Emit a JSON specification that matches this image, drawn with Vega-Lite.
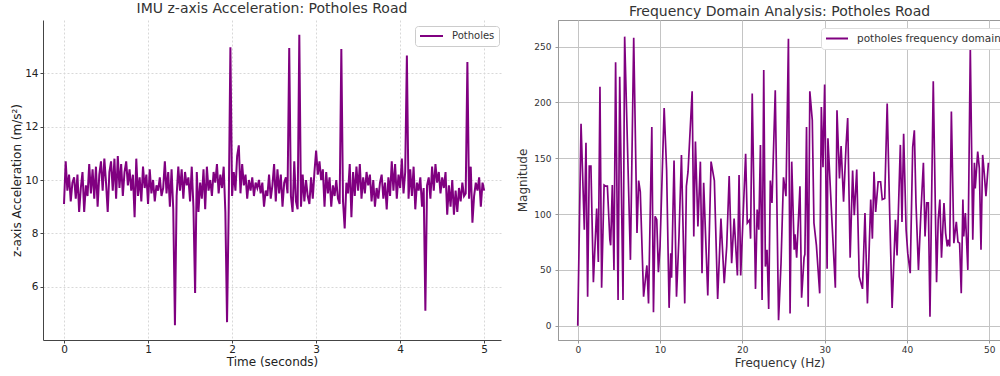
{
  "$schema": "https://vega.github.io/schema/vega-lite/v6.json",
  "padding": {"left": 10, "top": 2, "right": 0, "bottom": 0},
  "background": "white",
  "config": {"font": "DejaVu Sans", "view": {"stroke": null}},
  "spacing": 57,
  "bounds": "flush",
  "resolve": {"scale": {"stroke": "independent"}, "legend": {"stroke": "independent"}},
  "datasets": {
    "time": [
      {"t":0,"a":9.1},{"t":0.02,"a":10.7},{"t":0.04,"a":9.6},{"t":0.06,"a":10.2},{"t":0.08,"a":9.2},{"t":0.1,"a":9.9},{"t":0.12,"a":10.1},{"t":0.14,"a":9.3},{"t":0.16,"a":10.2},{"t":0.18,"a":8.8},
      {"t":0.2,"a":9.7},{"t":0.22,"a":10.3},{"t":0.24,"a":8.8},{"t":0.26,"a":9.8},{"t":0.28,"a":9.4},{"t":0.3,"a":10.6},{"t":0.32,"a":9.5},{"t":0.34,"a":10.4},{"t":0.36,"a":9.3},{"t":0.38,"a":10.5},
      {"t":0.4,"a":9.0},{"t":0.42,"a":10.2},{"t":0.44,"a":10.7},{"t":0.46,"a":9.6},{"t":0.48,"a":10.8},{"t":0.5,"a":9.9},{"t":0.52,"a":8.8},{"t":0.54,"a":10.3},{"t":0.56,"a":10.7},{"t":0.58,"a":9.6},
      {"t":0.6,"a":10.8},{"t":0.62,"a":9.3},{"t":0.64,"a":10.9},{"t":0.66,"a":9.7},{"t":0.68,"a":10.6},{"t":0.7,"a":9.4},{"t":0.72,"a":10.3},{"t":0.74,"a":10.7},{"t":0.76,"a":9.8},{"t":0.78,"a":10.4},
      {"t":0.8,"a":9.6},{"t":0.82,"a":10.2},{"t":0.84,"a":8.6},{"t":0.86,"a":10.8},{"t":0.88,"a":9.4},{"t":0.9,"a":10.1},{"t":0.92,"a":9.2},{"t":0.94,"a":10.5},{"t":0.96,"a":9.7},{"t":0.98,"a":10.2},
      {"t":1.0,"a":9.1},{"t":1.02,"a":10.4},{"t":1.04,"a":9.5},{"t":1.06,"a":10.0},{"t":1.08,"a":9.2},{"t":1.1,"a":9.8},{"t":1.12,"a":9.6},{"t":1.14,"a":10.1},{"t":1.16,"a":9.4},{"t":1.18,"a":9.7},
      {"t":1.2,"a":10.7},{"t":1.22,"a":9.5},{"t":1.24,"a":10.3},{"t":1.26,"a":9.0},{"t":1.28,"a":10.4},{"t":1.3,"a":8.9},{"t":1.32,"a":4.55},{"t":1.34,"a":9.4},{"t":1.36,"a":10.5},{"t":1.38,"a":9.6},
      {"t":1.4,"a":10.4},{"t":1.42,"a":9.3},{"t":1.44,"a":10.3},{"t":1.46,"a":9.8},{"t":1.48,"a":10.1},{"t":1.5,"a":9.2},{"t":1.52,"a":10.5},{"t":1.54,"a":9.0},{"t":1.56,"a":5.76},{"t":1.58,"a":10.3},
      {"t":1.6,"a":8.8},{"t":1.62,"a":9.9},{"t":1.64,"a":9.3},{"t":1.66,"a":10.4},{"t":1.68,"a":8.9},{"t":1.7,"a":10.5},{"t":1.72,"a":9.6},{"t":1.74,"a":10.0},{"t":1.76,"a":9.4},{"t":1.78,"a":10.3},
      {"t":1.8,"a":9.9},{"t":1.82,"a":10.6},{"t":1.84,"a":9.5},{"t":1.86,"a":10.2},{"t":1.88,"a":9.7},{"t":1.9,"a":10.5},{"t":1.92,"a":8.8},{"t":1.94,"a":4.67},{"t":1.96,"a":9.0},{"t":1.98,"a":14.98},
      {"t":2.0,"a":9.4},{"t":2.02,"a":10.3},{"t":2.04,"a":9.6},{"t":2.06,"a":10.9},{"t":2.08,"a":11.3},{"t":2.1,"a":9.5},{"t":2.12,"a":10.6},{"t":2.14,"a":9.8},{"t":2.16,"a":10.2},{"t":2.18,"a":9.3},
      {"t":2.2,"a":10.0},{"t":2.22,"a":9.6},{"t":2.24,"a":10.1},{"t":2.26,"a":9.4},{"t":2.28,"a":9.9},{"t":2.3,"a":9.7},{"t":2.32,"a":10.0},{"t":2.34,"a":9.5},{"t":2.36,"a":9.9},{"t":2.38,"a":9.0},
      {"t":2.4,"a":9.6},{"t":2.42,"a":9.4},{"t":2.44,"a":10.2},{"t":2.46,"a":9.3},{"t":2.48,"a":9.8},{"t":2.5,"a":10.6},{"t":2.52,"a":9.2},{"t":2.54,"a":10.4},{"t":2.56,"a":9.5},{"t":2.58,"a":10.2},
      {"t":2.6,"a":9.0},{"t":2.62,"a":9.9},{"t":2.64,"a":10.1},{"t":2.66,"a":9.5},{"t":2.68,"a":14.95},{"t":2.7,"a":9.4},{"t":2.72,"a":8.8},{"t":2.74,"a":10.7},{"t":2.76,"a":9.2},{"t":2.78,"a":8.9},
      {"t":2.8,"a":15.45},{"t":2.82,"a":9.0},{"t":2.84,"a":10.2},{"t":2.86,"a":9.2},{"t":2.88,"a":10.0},{"t":2.9,"a":9.4},{"t":2.92,"a":9.1},{"t":2.94,"a":10.1},{"t":2.96,"a":9.3},{"t":2.98,"a":10.3},
      {"t":3.0,"a":11.1},{"t":3.02,"a":10.2},{"t":3.04,"a":10.7},{"t":3.06,"a":10.0},{"t":3.08,"a":10.4},{"t":3.1,"a":9.0},{"t":3.12,"a":10.3},{"t":3.14,"a":9.5},{"t":3.16,"a":10.1},{"t":3.18,"a":9.0},
      {"t":3.2,"a":9.8},{"t":3.22,"a":9.4},{"t":3.24,"a":10.0},{"t":3.26,"a":9.3},{"t":3.28,"a":9.1},{"t":3.3,"a":14.91},{"t":3.32,"a":9.2},{"t":3.34,"a":8.18},{"t":3.36,"a":9.9},{"t":3.38,"a":9.5},
      {"t":3.4,"a":10.6},{"t":3.42,"a":8.6},{"t":3.44,"a":10.3},{"t":3.46,"a":9.4},{"t":3.48,"a":10.5},{"t":3.5,"a":9.6},{"t":3.52,"a":10.6},{"t":3.54,"a":9.3},{"t":3.56,"a":10.1},{"t":3.58,"a":9.5},
      {"t":3.6,"a":10.3},{"t":3.62,"a":9.8},{"t":3.64,"a":10.2},{"t":3.66,"a":9.2},{"t":3.68,"a":10.0},{"t":3.7,"a":9.0},{"t":3.72,"a":9.7},{"t":3.74,"a":9.3},{"t":3.76,"a":9.9},{"t":3.78,"a":10.2},
      {"t":3.8,"a":9.3},{"t":3.82,"a":9.9},{"t":3.84,"a":8.9},{"t":3.86,"a":10.1},{"t":3.88,"a":9.4},{"t":3.9,"a":10.7},{"t":3.92,"a":9.6},{"t":3.94,"a":10.6},{"t":3.96,"a":9.3},{"t":3.98,"a":10.2},
      {"t":4.0,"a":9.7},{"t":4.02,"a":10.8},{"t":4.04,"a":9.5},{"t":4.06,"a":10.3},{"t":4.08,"a":14.67},{"t":4.1,"a":9.3},{"t":4.12,"a":10.4},{"t":4.14,"a":9.4},{"t":4.16,"a":10.5},{"t":4.18,"a":8.9},
      {"t":4.2,"a":9.9},{"t":4.22,"a":9.6},{"t":4.24,"a":10.1},{"t":4.26,"a":9.0},{"t":4.28,"a":9.7},{"t":4.3,"a":5.1},{"t":4.32,"a":9.8},{"t":4.34,"a":10.1},{"t":4.36,"a":9.3},{"t":4.38,"a":10.5},
      {"t":4.4,"a":9.6},{"t":4.42,"a":10.6},{"t":4.44,"a":9.9},{"t":4.46,"a":10.3},{"t":4.48,"a":9.5},{"t":4.5,"a":10.1},{"t":4.52,"a":9.7},{"t":4.54,"a":10.3},{"t":4.56,"a":8.7},{"t":4.58,"a":9.8},
      {"t":4.6,"a":9.0},{"t":4.62,"a":10.0},{"t":4.64,"a":8.7},{"t":4.66,"a":9.6},{"t":4.68,"a":8.8},{"t":4.7,"a":9.7},{"t":4.72,"a":9.2},{"t":4.74,"a":9.9},{"t":4.76,"a":9.4},{"t":4.78,"a":9.5},
      {"t":4.8,"a":14.42},{"t":4.82,"a":9.3},{"t":4.84,"a":10.5},{"t":4.86,"a":8.4},{"t":4.88,"a":9.4},{"t":4.9,"a":9.9},{"t":4.92,"a":9.6},{"t":4.94,"a":10.1},{"t":4.96,"a":9.0},{"t":4.98,"a":9.9},
      {"t":5.0,"a":9.6}
    ],
    "freq": [
      {"f":0,"m":0},{"f":0.4,"m":181},{"f":0.8,"m":86},{"f":1.0,"m":164},{"f":1.2,"m":26},{"f":1.4,"m":143},{"f":1.6,"m":143},{"f":1.9,"m":39},{"f":2.3,"m":105},{"f":2.5,"m":57},
      {"f":2.7,"m":214},{"f":2.9,"m":34},{"f":3.2,"m":126},{"f":3.4,"m":125},{"f":3.6,"m":125},{"f":3.9,"m":77},{"f":4.0,"m":72},{"f":4.2,"m":126},{"f":4.4,"m":50},{"f":4.6,"m":236},
      {"f":4.9,"m":23},{"f":5.1,"m":223},{"f":5.5,"m":23},{"f":5.7,"m":259},{"f":6.4,"m":59},{"f":6.8,"m":258},{"f":7.2,"m":83},{"f":7.4,"m":130},{"f":7.6,"m":120},{"f":8.0,"m":26},
      {"f":8.4,"m":54},{"f":8.6,"m":20},{"f":9.0,"m":178},{"f":9.2,"m":12},{"f":9.4,"m":98},{"f":9.6,"m":95},{"f":9.8,"m":48},{"f":10.0,"m":71},{"f":10.5,"m":195},{"f":10.8,"m":139},
      {"f":11.1,"m":16},{"f":11.3,"m":65},{"f":11.4,"m":43},{"f":11.7,"m":148},{"f":12.0,"m":26},{"f":12.3,"m":80},{"f":12.6,"m":153},{"f":13.0,"m":20},{"f":13.2,"m":125},{"f":13.4,"m":138},
      {"f":13.9,"m":210},{"f":14.1,"m":80},{"f":14.3,"m":165},{"f":14.6,"m":89},{"f":14.9,"m":147},{"f":15.1,"m":47},{"f":15.3,"m":128},{"f":15.8,"m":27},{"f":16.2,"m":147},{"f":16.6,"m":130},
      {"f":17.0,"m":24},{"f":17.4,"m":96},{"f":17.8,"m":38},{"f":18.1,"m":71},{"f":18.4,"m":134},{"f":18.7,"m":56},{"f":19.0,"m":96},{"f":19.4,"m":45},{"f":19.6,"m":135},{"f":19.8,"m":45},
      {"f":20.4,"m":154},{"f":20.6,"m":92},{"f":20.9,"m":95},{"f":21.0,"m":78},{"f":21.2,"m":208},{"f":21.6,"m":33},{"f":21.8,"m":104},{"f":22.0,"m":86},{"f":22.2,"m":162},{"f":22.4,"m":23},
      {"f":22.6,"m":229},{"f":22.8,"m":53},{"f":23.0,"m":68},{"f":23.2,"m":15},{"f":23.4,"m":130},{"f":23.6,"m":110},{"f":24.0,"m":211},{"f":24.4,"m":5},{"f":24.7,"m":56},{"f":25.0,"m":133},
      {"f":25.3,"m":116},{"f":25.6,"m":257},{"f":25.8,"m":11},{"f":26.0,"m":147},{"f":26.3,"m":68},{"f":26.4,"m":82},{"f":26.6,"m":61},{"f":27.0,"m":125},{"f":27.2,"m":25},{"f":27.5,"m":61},
      {"f":27.6,"m":64},{"f":27.8,"m":178},{"f":28.0,"m":17},{"f":28.2,"m":210},{"f":28.5,"m":184},{"f":28.7,"m":92},{"f":29.0,"m":72},{"f":29.4,"m":29},{"f":29.6,"m":196},{"f":29.8,"m":142},
      {"f":30.0,"m":216},{"f":30.3,"m":51},{"f":30.4,"m":168},{"f":30.9,"m":92},{"f":31.3,"m":34},{"f":31.5,"m":193},{"f":31.8,"m":132},{"f":32.0,"m":161},{"f":32.3,"m":111},{"f":32.6,"m":161},
      {"f":32.8,"m":186},{"f":33.1,"m":61},{"f":33.4,"m":139},{"f":33.6,"m":99},{"f":33.9,"m":140},{"f":34.2,"m":44},{"f":34.6,"m":33},{"f":34.9,"m":101},{"f":35.2,"m":20},{"f":35.6,"m":113},
      {"f":35.8,"m":78},{"f":36.0,"m":138},{"f":36.2,"m":102},{"f":36.5,"m":129},{"f":36.8,"m":129},{"f":37.0,"m":113},{"f":37.3,"m":114},{"f":37.6,"m":199},{"f":37.9,"m":102},{"f":38.2,"m":16},
      {"f":38.6,"m":95},{"f":38.8,"m":63},{"f":39.2,"m":162},{"f":39.4,"m":93},{"f":39.6,"m":172},{"f":39.9,"m":86},{"f":40.1,"m":65},{"f":40.4,"m":47},{"f":40.7,"m":160},{"f":40.9,"m":175},
      {"f":41.1,"m":110},{"f":41.4,"m":50},{"f":41.7,"m":102},{"f":42.0,"m":146},{"f":42.2,"m":80},{"f":42.4,"m":110},{"f":42.6,"m":110},{"f":42.8,"m":8},{"f":43.2,"m":219},{"f":43.6,"m":39},
      {"f":43.8,"m":95},{"f":44.0,"m":113},{"f":44.2,"m":61},{"f":44.5,"m":110},{"f":44.7,"m":83},{"f":44.9,"m":71},{"f":45.0,"m":77},{"f":45.2,"m":71},{"f":45.4,"m":192},{"f":45.7,"m":74},
      {"f":46.0,"m":93},{"f":46.2,"m":75},{"f":46.4,"m":74},{"f":46.6,"m":29},{"f":46.8,"m":113},{"f":46.9,"m":80},{"f":47.1,"m":101},{"f":47.4,"m":50},{"f":47.7,"m":249},{"f":48.0,"m":77},
      {"f":48.2,"m":146},{"f":48.3,"m":123},{"f":48.6,"m":156},{"f":48.8,"m":141},{"f":49.0,"m":68},{"f":49.2,"m":153},{"f":49.4,"m":136},{"f":49.6,"m":116},{"f":49.9,"m":146}
    ]
  },
  "hconcat": [
    {
      "width": 458,
      "height": 320,
      "view": {"stroke": null},
      "title": {"text": "IMU z-axis Acceleration: Potholes Road", "fontSize": 14, "fontWeight": "normal", "offset": 4, "color": "#333"},
      "data": {"name": "time"},
      "mark": {"type": "line", "strokeWidth": 2, "clip": true},
      "encoding": {
        "x": {"field": "t", "type": "quantitative", "scale": {"domain": [-0.25, 5.2], "nice": false, "zero": false},
          "axis": {"title": "Time (seconds)", "values": [0,1,2,3,4,5], "format": "d", "grid": true, "gridDash": [2,2], "gridColor": "#d8d8d8",
            "tickSize": 3, "labelPadding": 1, "labelFontSize": 10.5, "titleFontSize": 12, "titleFontWeight": "normal", "titlePadding": 2,
            "domainColor": "#444", "tickColor": "#444", "labelColor": "#222", "titleColor": "#222"}},
        "y": {"field": "a", "type": "quantitative", "scale": {"domain": [4.0, 16.0], "nice": false, "zero": false},
          "axis": {"title": "z-axis Acceleration (m/s²)", "values": [6,8,10,12,14], "grid": true, "gridDash": [2,2], "gridColor": "#d8d8d8",
            "tickSize": 3, "labelPadding": 2, "labelFontSize": 10.5, "titleFontSize": 12, "titleFontWeight": "normal", "titlePadding": 1,
            "domainColor": "#444", "tickColor": "#444", "labelColor": "#222", "titleColor": "#222"}},
        "stroke": {"datum": "Potholes", "type": "nominal", "scale": {"range": ["#800080"]},
          "legend": {"orient": "none", "legendX": 372, "legendY": 6, "title": null, "symbolType": "stroke", "symbolSize": 529, "symbolStrokeWidth": 2,
            "labelFontSize": 10, "labelColor": "#333", "fillColor": "white", "strokeColor": "#ccc", "padding": 4, "cornerRadius": 3, "labelOffset": 8, "clipHeight": 12}}
      }
    },
    {
      "width": 443,
      "height": 320,
      "view": {"stroke": "#999"},
      "title": {"text": "Frequency Domain Analysis: Potholes Road", "fontSize": 14, "fontWeight": "normal", "offset": 1, "color": "#333"},
      "data": {"name": "freq"},
      "mark": {"type": "line", "strokeWidth": 1.7, "clip": true},
      "encoding": {
        "x": {"field": "f", "type": "quantitative", "scale": {"domain": [-2.4, 51.43], "nice": false, "zero": false},
          "axis": {"title": "Frequency (Hz)", "values": [0,10,20,30,40,50], "grid": true, "gridColor": "#c4c4c4",
            "tickSize": 3, "labelPadding": 2, "labelFontSize": 9, "titleFontSize": 12, "titleFontWeight": "normal", "titlePadding": 3,
            "domainColor": "#999", "tickColor": "#999", "labelColor": "#333", "titleColor": "#333"}},
        "y": {"field": "m", "type": "quantitative", "scale": {"domain": [-12.8, 273.9], "nice": false, "zero": false},
          "axis": {"title": "Magnitude", "values": [0,50,100,150,200,250], "grid": true, "gridColor": "#c4c4c4",
            "tickSize": 3, "labelPadding": 4, "labelFontSize": 9, "titleFontSize": 12, "titleFontWeight": "normal", "titlePadding": 4,
            "domainColor": "#999", "tickColor": "#999", "labelColor": "#333", "titleColor": "#333"}},
        "stroke": {"datum": "potholes frequency domain", "type": "nominal", "scale": {"range": ["#800080"]},
          "legend": {"orient": "none", "legendX": 263, "legendY": 8, "title": null, "symbolType": "stroke", "symbolSize": 484, "symbolStrokeWidth": 2,
            "labelFontSize": 10.5, "labelColor": "#333", "fillColor": "white", "strokeColor": "#ddd", "padding": 4, "cornerRadius": 3, "labelOffset": 8, "clipHeight": 13}}
      }
    }
  ]
}
